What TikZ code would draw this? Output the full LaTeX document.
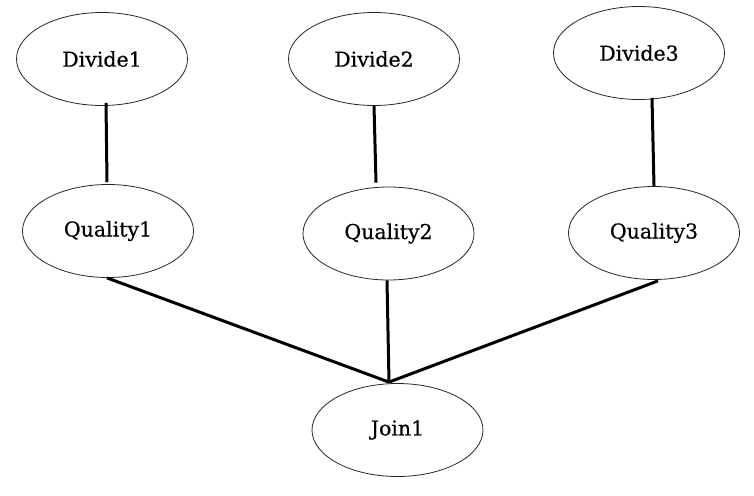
\documentclass[tikz,border=0pt]{standalone}
\usepackage{fontspec}
\setmainfont{DejaVu Serif}
\newfontfamily\labfont[FakeBold=0.5]{DejaVu Serif}
\usetikzlibrary{shapes.geometric}
\begin{document}
\begin{tikzpicture}[x=1pt,y=-1pt,
  proc/.style={draw=black!85, line width=0.8pt, ellipse, inner sep=0pt,
    minimum width=171pt, minimum height=93pt,
    font=\labfont\fontsize{20.5}{24}\selectfont},
  link/.style={line width=3pt, black}]
\useasboundingbox (0,0) rectangle (754,495);
\node[proc] (d1) at (102,59) {Divide1};
\node[proc] (d2) at (374,59) {Divide2};
\node[proc] (d3) at (639,53) {Divide3};
\node[proc] (q1) at (108,231) {Quality1};
\node[proc] (q2) at (388.5,233.5) {Quality2};
\node[proc] (q3) at (654,233) {Quality3};
\node[proc] (j1) at (397.5,430) {Join1};
\coordinate (jt) at ([xshift=-8.5pt,yshift=1pt]j1.north);
\draw[link] ([xshift=4pt,yshift=3pt]d1.south) -- ([xshift=-1pt,yshift=2pt]q1.north);
\draw[link] ([yshift=0pt]d2.south) -- ([xshift=-12.5pt,yshift=4pt]q2.north);
\draw[link] ([xshift=13pt,yshift=2pt]d3.south) -- (q3.north);
\draw[link] ([xshift=-1pt]q1.south) -- (jt);
\draw[link] ([xshift=-1.5pt]q2.south) -- (jt);
\draw[link] ([xshift=4pt,yshift=-1pt]q3.south) -- (jt);
\end{tikzpicture}
\end{document}
